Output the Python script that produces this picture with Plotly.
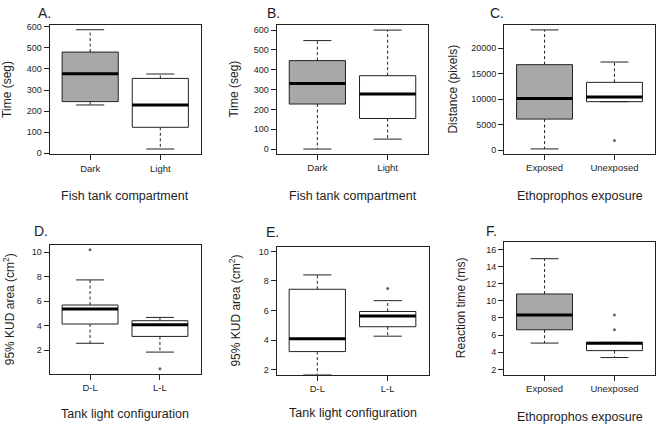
import plotly.graph_objects as go

W, H = 658, 428

# ---------------- data ----------------
# Panel A
a_cats = ["Dark", "Light"]
a_lower = [229, 20]
a_q1 = [245, 123]
a_med = [377, 229]
a_q3 = [480, 355]
a_upper = [586, 376]
a_out_pos = []
a_out_val = []

# Panel B
b_cats = ["Dark", "Light"]
b_lower = [0, 50]
b_q1 = [227, 154]
b_med = [330, 277]
b_q3 = [446, 370]
b_upper = [547, 600]
b_out_pos = []
b_out_val = []

# Panel C
c_cats = ["Exposed", "Unexposed"]
c_lower = [257, 9520]
c_q1 = [6110, 9520]
c_med = [10160, 10420]
c_q3 = [16785, 13310]
c_upper = [23600, 17300]
c_out_pos = [2]
c_out_val = [1930]

# Panel D
d_cats = ["D-L", "L-L"]
d_lower = [2.56, 1.84]
d_q1 = [4.13, 3.12]
d_med = [5.36, 4.08]
d_q3 = [5.68, 4.40]
d_upper = [7.73, 4.67]
d_out_pos = [1, 2]
d_out_val = [10.19, 0.48]

# Panel E
e_cats = ["D-L", "L-L"]
e_lower = [1.68, 4.27]
e_q1 = [3.23, 4.91]
e_med = [4.09, 5.63]
e_q3 = [7.44, 5.94]
e_upper = [8.41, 6.67]
e_out_pos = [2]
e_out_val = [7.49]

# Panel F
f_cats = ["Exposed", "Unexposed"]
f_lower = [5.07, 3.38]
f_q1 = [6.62, 4.19]
f_med = [8.35, 5.04]
f_q3 = [10.80, 5.15]
f_upper = [14.92, 5.15]
f_out_pos = [2, 2]
f_out_val = [8.35, 6.62]

panel_letters = ["A.", "B.", "C.", "D.", "E.", "F."]
x_titles = ["Fish tank compartment", "Fish tank compartment", "Ethoprophos exposure",
            "Tank light configuration", "Tank light configuration", "Ethoprophos exposure"]
y_titles = ["Time (seg)", "Time (seg)", "Distance (pixels)",
            "95% KUD area (cm<sup>2</sup>)", "95% KUD area (cm<sup>2</sup>)", "Reaction time (ms)"]

GRAY = "#a8a8a8"
WHITE = "#ffffff"
box_fills = [[GRAY, WHITE], [GRAY, WHITE], [GRAY, WHITE],
             [WHITE, WHITE], [WHITE, WHITE], [GRAY, WHITE]]

panels = [
    (a_cats, a_lower, a_q1, a_med, a_q3, a_upper, a_out_pos, a_out_val),
    (b_cats, b_lower, b_q1, b_med, b_q3, b_upper, b_out_pos, b_out_val),
    (c_cats, c_lower, c_q1, c_med, c_q3, c_upper, c_out_pos, c_out_val),
    (d_cats, d_lower, d_q1, d_med, d_q3, d_upper, d_out_pos, d_out_val),
    (e_cats, e_lower, e_q1, e_med, e_q3, e_upper, e_out_pos, e_out_val),
    (f_cats, f_lower, f_q1, f_med, f_q3, f_upper, f_out_pos, f_out_val),
]

# ---------------- layout geometry (pixels) ----------------
frames_px = [  # left, right, top, bottom
    (49.5, 201.0, 22.7, 154.0),
    (276.6, 428.4, 22.7, 153.3),
    (504.0, 655.0, 22.7, 153.3),
    (49.5, 200.5, 246.0, 376.7),
    (276.5, 428.5, 247.7, 377.7),
    (504.0, 655.0, 242.7, 377.7),
]
y_ranges = [[-6, 607], [-24, 624], [-700, 24500], [0.09, 10.58], [1.68, 10.32], [1.4, 16.9]]
y_dticks = [100, 100, 5000, 2, 2, 2]
y_tick0 = [0, 0, 0, 0, 0, 0]

letter_pos = [(36, 10), (265, 10), (488, 10), (32, 232), (264, 233), (484, 232)]
ytitle_x = [7, 234, 453, 9, 235, 461]
xtitle_y = [196, 196.5, 196.5, 418, 416.5, 421]

TXT = "#1e1e1e"
FONT = "Liberation Sans, Arial, sans-serif"

fig = go.Figure()
layout = dict(
    width=W, height=H, margin=dict(l=0, r=0, t=0, b=0),
    paper_bgcolor="white", plot_bgcolor="white", showlegend=False,
    font=dict(family=FONT, color=TXT), hovermode=False,
)
annotations = []

for i, (cats, lo, q1, med, q3, hi, opos, oval) in enumerate(panels):
    n = i + 1
    xa = "x" if n == 1 else f"x{n}"
    ya = "y" if n == 1 else f"y{n}"
    left, right, top, bottom = frames_px[i]
    layout[f"xaxis{'' if n == 1 else n}"] = dict(
        domain=[left / W, right / W], anchor=ya, range=[0.42, 2.58],
        tickmode="array", tickvals=[1, 2], ticktext=cats,
        showline=True, mirror=True, linecolor="#222", linewidth=1,
        ticks="outside", ticklen=5, tickcolor="#222", showgrid=False, zeroline=False,
        tickfont=dict(size=9.5, family=FONT, color=TXT),
    )
    layout[f"yaxis{'' if n == 1 else n}"] = dict(
        domain=[1 - bottom / H, 1 - top / H], anchor=xa, range=y_ranges[i],
        tick0=y_tick0[i], dtick=y_dticks[i], tickformat="d", exponentformat="none",
        showline=True, mirror=True, linecolor="#222", linewidth=1,
        ticks="outside", ticklen=5, tickcolor="#222", showgrid=False, zeroline=False,
        tickfont=dict(size=9, family=FONT, color=TXT),
    )
    for j in range(len(cats)):
        pos = j + 1
        # box body
        fig.add_trace(go.Box(
            x=[pos], q1=[q1[j]], median=[med[j]], q3=[q3[j]],
            lowerfence=[q1[j]], upperfence=[q3[j]],
            width=0.8, whiskerwidth=0, fillcolor=box_fills[i][j],
            line=dict(color="#222", width=1), boxpoints=False,
            xaxis=xa, yaxis=ya, hoverinfo="skip",
        ))
        # dashed whiskers
        for a, b in ((q3[j], hi[j]), (q1[j], lo[j])):
            if a != b:
                fig.add_trace(go.Scatter(
                    x=[pos, pos], y=[a, b], mode="lines",
                    line=dict(color="#222", width=1, dash="3px,2.5px"),
                    xaxis=xa, yaxis=ya, hoverinfo="skip"))
        # caps
        for v in (hi[j], lo[j]):
            fig.add_trace(go.Scatter(
                x=[pos - 0.2, pos + 0.2], y=[v, v], mode="lines",
                line=dict(color="#222", width=1),
                xaxis=xa, yaxis=ya, hoverinfo="skip"))
        # thick median
        fig.add_trace(go.Scatter(
            x=[pos - 0.4, pos + 0.4], y=[med[j], med[j]], mode="lines",
            line=dict(color="#000", width=3),
            xaxis=xa, yaxis=ya, hoverinfo="skip"))
    if opos:
        fig.add_trace(go.Scatter(
            x=opos, y=oval, mode="markers",
            marker=dict(color="#666", size=3, symbol="circle"),
            xaxis=xa, yaxis=ya, hoverinfo="skip"))

    # text
    lx, ly = letter_pos[i]
    annotations.append(dict(text=panel_letters[i], x=lx / W, y=1 - ly / H, xref="paper", yref="paper",
                            xanchor="left", yanchor="middle", showarrow=False,
                            font=dict(size=14, family=FONT, color=TXT)))
    annotations.append(dict(text=y_titles[i], x=ytitle_x[i] / W, y=1 - ((top + bottom) / 2) / H,
                            xref="paper", yref="paper", xanchor="center", yanchor="middle",
                            textangle=-90, showarrow=False,
                            font=dict(size=12, family=FONT, color=TXT)))
    annotations.append(dict(text=x_titles[i], x=((left + right) / 2) / W, y=1 - xtitle_y[i] / H,
                            xref="paper", yref="paper", xanchor="center", yanchor="middle",
                            showarrow=False, font=dict(size=12.5, family=FONT, color=TXT)))

layout["annotations"] = annotations
fig.update_layout(**layout)
fig.write_html("out.html", config={"displayModeBar": False, "staticPlot": True},
               post_script="document.body.style.margin='0';document.body.style.overflow='hidden';")
